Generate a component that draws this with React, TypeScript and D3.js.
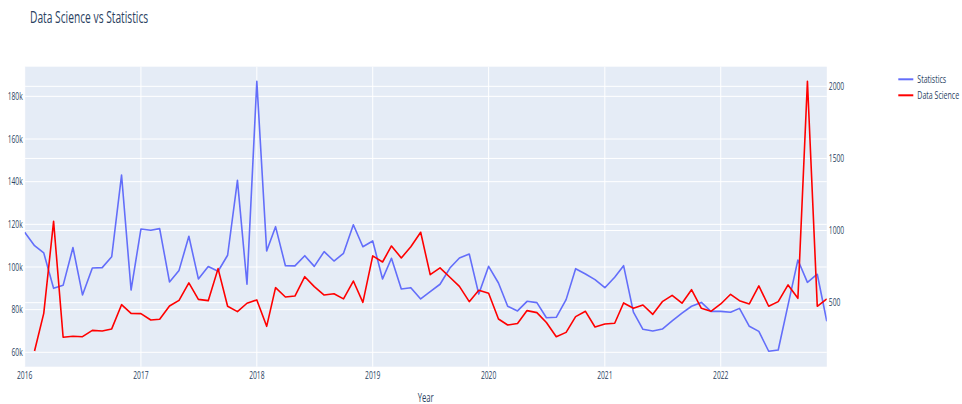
import React, { useEffect, useRef } from "react";
import * as d3 from "d3";

// monthly points, Jan 2016 .. Dec 2022
const months = d3.timeMonth.range(new Date(2016, 0, 1), new Date(2023, 0, 1));

const statistics = [
  116300, 110000, 106600, 90000, 91400, 109100, 86900, 99500, 99700, 104800, 143100, 89200,
  117800, 117200, 118000, 93000, 98400, 114400, 94400, 100200, 98000, 105500, 140600, 91900,
  187000, 107500, 118900, 100600, 100500, 105300, 100300, 107200, 102800, 106400, 119800, 109500,
  112200, 94400, 104100, 89700, 90300, 85000, 88400, 91900, 99500, 104200, 106100, 87300,
  100300, 92500, 81600, 79400, 83900, 83300, 76200, 76400, 84700, 99200, 96700, 94100,
  90300, 95200, 100600, 78800, 70800, 70000, 70900, 74700, 78400, 81600, 83400, 79200,
  79200, 78800, 80600, 72200, 69800, 60500, 61100, 82200, 103300, 92800, 96600, 74500,
];

const dataScience = [
  null, 165, 426, 1064, 260, 267, 264, 308, 304, 318, 486, 426,
  424, 380, 385, 477, 516, 637, 523, 514, 736, 475, 438, 496,
  519, 336, 604, 539, 546, 680, 611, 553, 562, 526, 650, 502,
  824, 782, 893, 810, 888, 988, 694, 741, 676, 613, 507, 586,
  565, 387, 345, 355, 445, 431, 362, 264, 294, 403, 440, 331,
  352, 357, 498, 461, 484, 419, 507, 551, 496, 590, 461, 440,
  491, 558, 514, 491, 616, 475, 507, 623, 530, 2035, 475, 526,
];

const yearTicks = [2016, 2017, 2018, 2019, 2020, 2021, 2022];
const leftTicks = [60000, 80000, 100000, 120000, 140000, 160000, 180000];
const rightTicks = [500, 1000, 1500, 2000];
const seriesNames = ["Statistics", "Data Science"];
const seriesColors = ["#636efa", "#ff0000"];

const App = () => {
  const chart = useRef(null);
  const dimensions = { width: 962, height: 404 };
  const plot = { left: 24.7, right: 826.8, top: 66.7, bottom: 366.7 };
  const squeeze = 0.64; // the text in the picture is narrow
  const fontColor = "#2a3f5f";

  useEffect(() => {
    const svg = d3.select(chart.current);
    svg.selectAll("*").remove();

    const xScale = d3
      .scaleTime()
      .domain([months[0], months[months.length - 1]])
      .range([plot.left, plot.right]);
    const yLeft = d3.scaleLinear().domain([53250, 193900]).range([plot.bottom, plot.top]);
    const yRight = d3.scaleLinear().domain([56, 2136]).range([plot.bottom, plot.top]);

    const label = (g, x, y, text, size, anchor) =>
      g
        .append("text")
        .attr("transform", `translate(${x},${y}) scale(${squeeze},1)`)
        .attr("text-anchor", anchor)
        .attr("font-size", size)
        .attr("font-family", "'Open Sans', sans-serif")
        .attr("fill", fontColor)
        .text(text);

    svg
      .append("rect")
      .attr("x", plot.left)
      .attr("y", plot.top)
      .attr("width", plot.right - plot.left)
      .attr("height", plot.bottom - plot.top)
      .attr("fill", "#e5ecf6");

    const grid = svg.append("g").attr("stroke", "#ffffff").attr("stroke-width", 1);
    yearTicks.forEach((yr) => {
      const gx = xScale(new Date(yr, 0, 1));
      grid.append("line").attr("x1", gx).attr("x2", gx).attr("y1", plot.top).attr("y2", plot.bottom);
    });
    leftTicks.forEach((v) => {
      grid.append("line").attr("x1", plot.left).attr("x2", plot.right).attr("y1", yLeft(v)).attr("y2", yLeft(v));
    });
    rightTicks.forEach((v) => {
      grid.append("line").attr("x1", plot.left).attr("x2", plot.right).attr("y1", yRight(v)).attr("y2", yRight(v));
    });

    const axes = svg.append("g");
    leftTicks.forEach((v) => label(axes, plot.left - 2, yLeft(v) + 3.8, `${v / 1000}k`, 10.5, "end"));
    rightTicks.forEach((v) => label(axes, plot.right + 2, yRight(v) + 3.8, `${v}`, 10.5, "start"));
    yearTicks.forEach((yr) => label(axes, xScale(new Date(yr, 0, 1)), 378.5, `${yr}`, 10.5, "middle"));
    label(axes, (plot.left + plot.right) / 2, 401.5, "Year", 12, "middle");
    label(svg, 30, 23.3, "Data Science vs Statistics", 16, "start");

    svg
      .append("clipPath")
      .attr("id", "plotclip")
      .append("rect")
      .attr("x", plot.left)
      .attr("y", plot.top)
      .attr("width", plot.right - plot.left)
      .attr("height", plot.bottom - plot.top);

    const statLine = d3
      .line()
      .x((d, i) => xScale(months[i]))
      .y((d) => yLeft(d));
    const dsLine = d3
      .line()
      .defined((d) => d !== null)
      .x((d, i) => xScale(months[i]))
      .y((d) => yRight(d));

    const lines = svg.append("g").attr("clip-path", "url(#plotclip)");
    lines
      .append("path")
      .attr("d", statLine(statistics))
      .attr("fill", "none")
      .attr("stroke", seriesColors[0])
      .attr("stroke-width", 1.6)
      .attr("stroke-linejoin", "round");
    lines
      .append("path")
      .attr("d", dsLine(dataScience))
      .attr("fill", "none")
      .attr("stroke", seriesColors[1])
      .attr("stroke-width", 1.6)
      .attr("stroke-linejoin", "round");

    // legend
    const legend = svg.append("g");
    seriesNames.forEach((name, i) => {
      const ly = 79.3 + i * 16;
      legend
        .append("line")
        .attr("x1", 898.3)
        .attr("x2", 913.3)
        .attr("y1", ly)
        .attr("y2", ly)
        .attr("stroke", seriesColors[i])
        .attr("stroke-width", 2);
      label(legend, 917.3, ly + 4, name, 11, "start");
    });
  }, []);

  return (
    <svg
      ref={chart}
      width={dimensions.width}
      height={dimensions.height}
      style={{ position: "absolute", left: 0, top: 0, background: "#ffffff" }}
    ></svg>
  );
};

export default App;
